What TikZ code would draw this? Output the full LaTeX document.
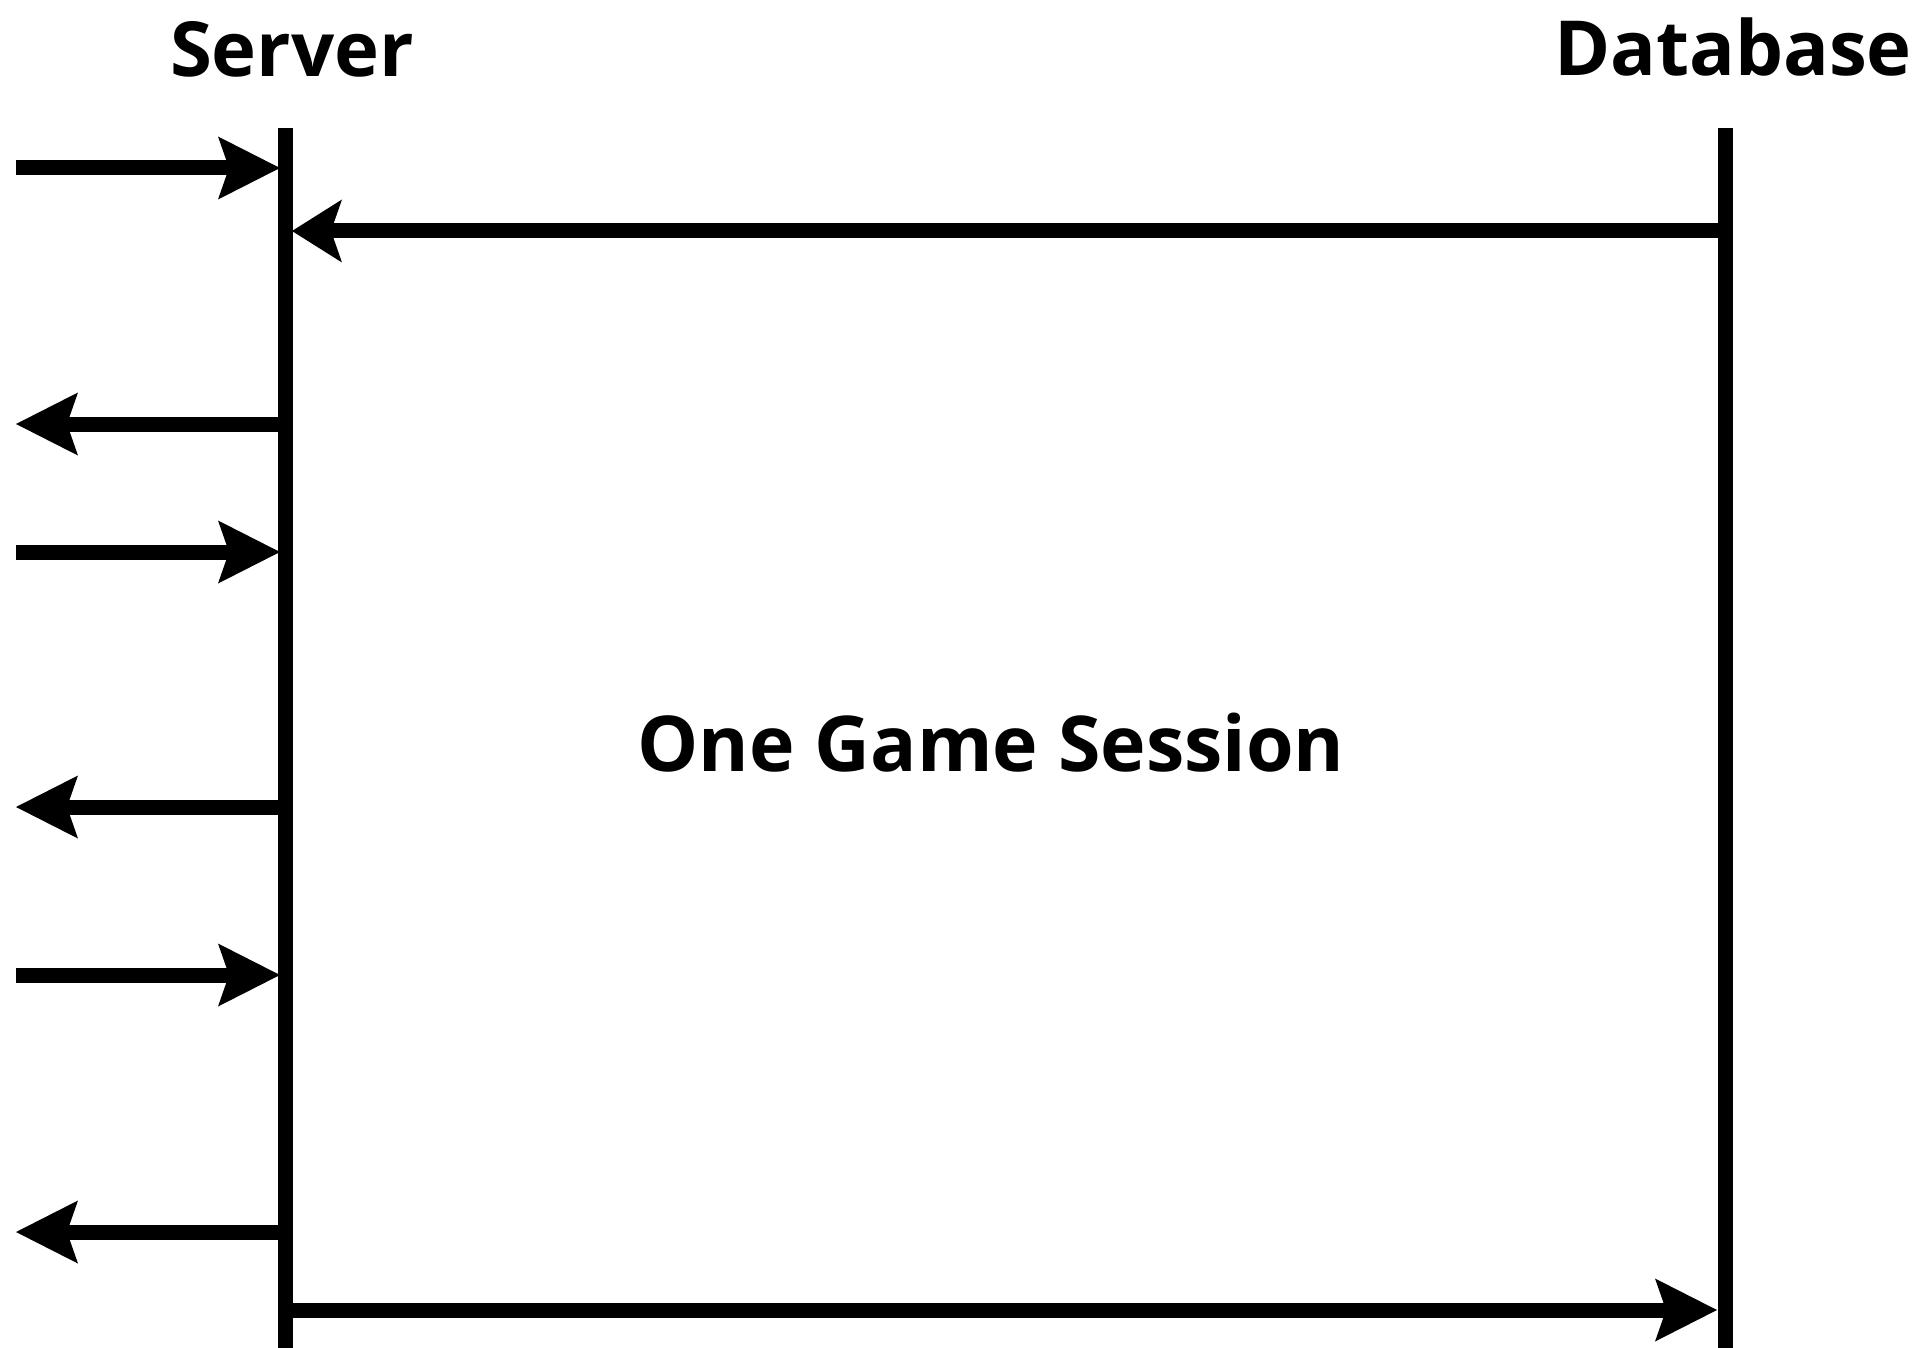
\documentclass[tikz,border=0pt]{standalone}
\usepackage{fontspec}
\setmainfont{Open Sans}
\usetikzlibrary{arrows.meta}
\begin{document}
\begin{tikzpicture}[x=1pt,y=-1pt,
  lifeline/.style={line width=15pt},
  msg/.style={line width=15pt,-{Stealth[length=62pt,width=63pt,inset=11pt,line width=0pt]}},
  shortmsg/.style={line width=15pt,-{Stealth[length=50pt,width=63pt,inset=11pt,line width=0pt]}},
  lbl/.style={inner sep=0pt,anchor=base,font=\bfseries\fontsize{76}{90}\selectfont},
  big/.style={inner sep=0pt,anchor=base,font=\bfseries\fontsize{77}{100}\selectfont}]
\useasboundingbox[fill=white] (0,0) rectangle (1918,1348);
% lifelines
\coordinate (st) at (285,128);
\coordinate (sb) at (285,1348);
\coordinate (dt) at (1725,128);
\coordinate (db) at (1725,1348);
\draw[lifeline] (st) -- (sb);
\draw[lifeline] (dt) -- (db);
% labels
\node[lbl] (server) at (292,77) {Server};
\node[lbl] (database) at (1733,76) {Database};
\node[big] (session) at (991,771) {One Game Session};
% message end points
\coordinate (a1s) at (16,168);   \coordinate (a1e) at (280,168);
\coordinate (a2s) at (1718,231); \coordinate (a2e) at (292,231);
\coordinate (a3s) at (278,424);  \coordinate (a3e) at (16,424);
\coordinate (a4s) at (16,552);   \coordinate (a4e) at (280,552);
\coordinate (a5s) at (278,807);  \coordinate (a5e) at (16,807);
\coordinate (a6s) at (16,975);   \coordinate (a6e) at (280,975);
\coordinate (a7s) at (278,1232); \coordinate (a7e) at (16,1232);
\coordinate (a8s) at (285,1310); \coordinate (a8e) at (1717,1310);
\foreach \i in {1,3,4,5,6,7,8}{\draw[msg] (a\i s) -- (a\i e);}
\draw[shortmsg] (a2s) -- (a2e);
\end{tikzpicture}
\end{document}
